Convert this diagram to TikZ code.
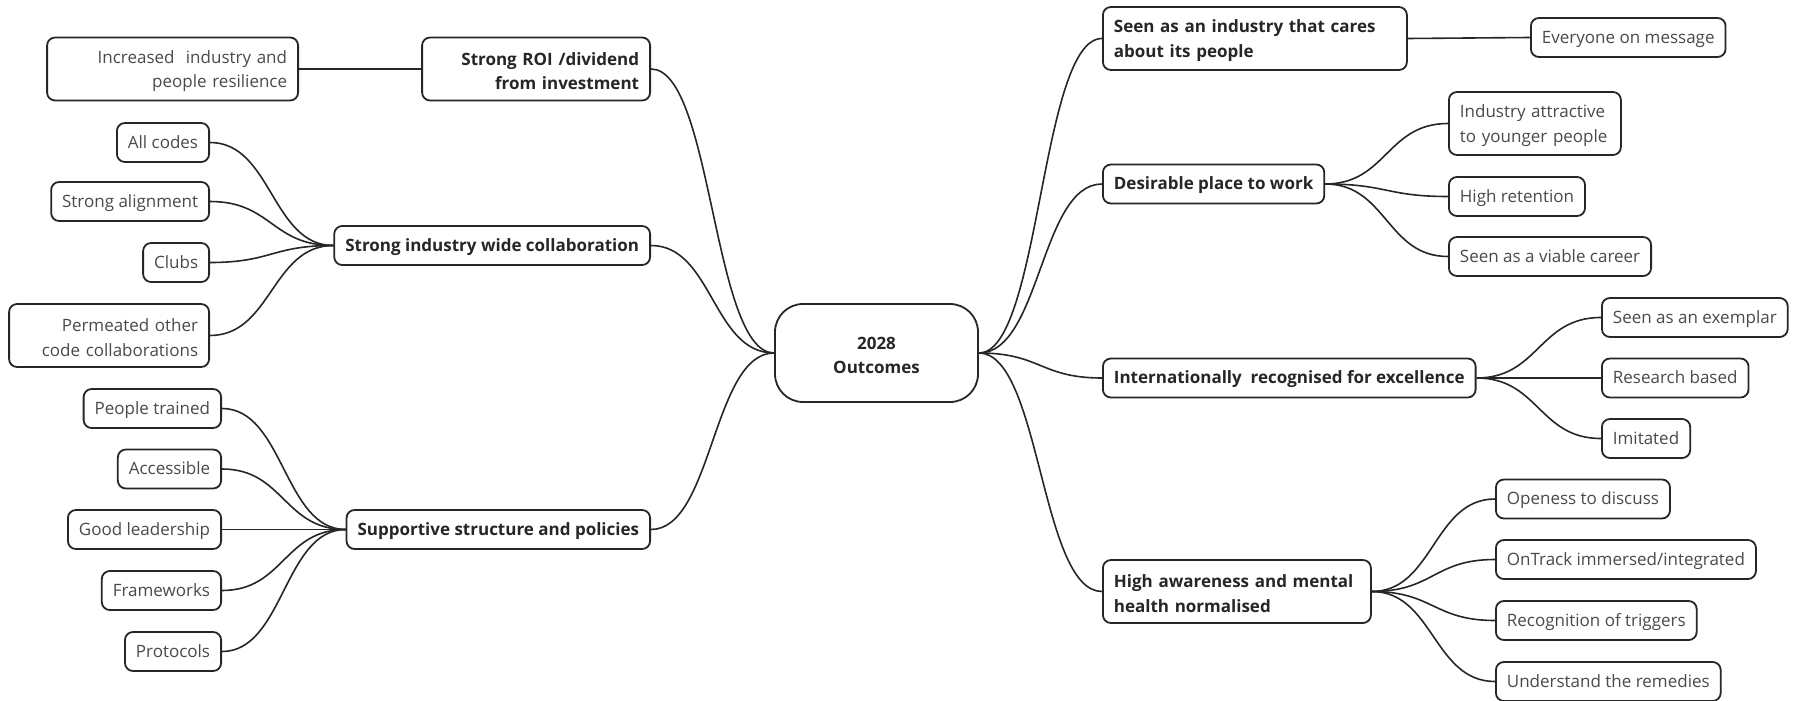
\documentclass[tikz,border=0pt]{standalone}
\usepackage{fontspec}
\setmainfont{Open Sans}
\usetikzlibrary{calc}
\definecolor{ink}{HTML}{262626}
\definecolor{soft}{HTML}{4A4A4A}
% S-shaped connector with horizontal tangents at both ends
\newcommand\mlink[2]{%
  \draw[conn] let \p1=(#1), \p2=(#2), \n1={0.5*(\x2-\x1)} in
    (\p1) .. controls +(\n1,0pt) and +(-\n1,0pt) .. (\p2);}
% extra room above the first line of two-line labels
\newcommand\firstline{\rule{0pt}{8.5pt}}
\begin{document}
\begin{tikzpicture}[x=0.5pt,y=-0.5pt,
  box/.style={draw=ink, line width=0.9pt, rounded corners=4pt, fill=white,
    inner xsep=5.5pt, inner ysep=0pt, minimum height=19.5pt,
    text height=7.4pt, text depth=1.8pt,
    font=\fontsize{8.5}{12.4}\selectfont, text=soft},
  topic/.style={box, font=\fontsize{8.5}{12.4}\selectfont\bfseries, text=ink},
  tall/.style={minimum height=31.5pt, text height=, text depth=},
  conn/.style={draw=ink, line width=0.8pt},
]
\useasboundingbox (0,0) rectangle (1798,701);

% centre
\node[topic, tall, minimum width=101.5pt, minimum height=49pt, rounded corners=14pt, align=center]
  (root) at (876.5,353) {\firstline 2028\\Outcomes};

% left branches
\node[topic, tall, anchor=east, text width=103pt, align=right] (roi) at (651,69)
  {\firstline Strong ROI /dividend\\from investment};
\node[box, tall, anchor=east, text width=114.5pt, align=right] (incr) at (299,69)
  {\firstline Increased\ \ industry and\\people resilience};

\node[topic, anchor=east] (collab) at (651,245.5) {Strong industry wide collaboration};
\node[box, anchor=east] (codes) at (210,142.5) {All codes};
\node[box, anchor=east] (align) at (210,201.5) {Strong alignment};
\node[box, anchor=east] (clubs) at (210,262.5) {Clubs};
\node[box, tall, anchor=east, text width=89pt, align=right] (perm) at (210,335.5)
  {\firstline Permeated other\\code collaborations};

\node[topic, anchor=east] (supp) at (651,529.5) {Supportive structure and policies};
\node[box, anchor=east] (trained) at (222,408.5) {People trained};
\node[box, anchor=east] (access) at (222,469) {Accessible};
\node[box, anchor=east] (leader) at (222,529.5) {Good leadership};
\node[box, anchor=east] (frame) at (222,590.5) {Frameworks};
\node[box, anchor=east] (proto) at (222,651.5) {Protocols};

% right branches
\node[topic, tall, anchor=west, text width=141pt, align=left] (cares) at (1102,38.5)
  {\firstline Seen as an industry that cares\\about its people};
\node[box, anchor=west] (message) at (1530,37.5) {Everyone on message};

\node[topic, anchor=west] (desire) at (1102,184) {Desirable place to work};
\node[box, tall, anchor=west, text width=75pt, align=left] (young) at (1448,123.5)
  {\firstline Industry attractive\\to younger people};
\node[box, anchor=west] (retain) at (1448,196.5) {High retention};
\node[box, anchor=west] (career) at (1448,256.5) {Seen as a viable career};

\node[topic, anchor=west] (intl) at (1102,378) {Internationally\ \ recognised for excellence};
\node[box, anchor=west] (exemplar) at (1601,317.5) {Seen as an exemplar};
\node[box, anchor=west] (research) at (1601,378) {Research based};
\node[box, anchor=west] (imitated) at (1601,438.5) {Imitated};

\node[topic, tall, anchor=west, text width=123pt, align=left] (aware) at (1102,591.5)
  {\firstline High awareness and mental\\health normalised};
\node[box, anchor=west] (open) at (1495,499) {Openess to discuss};
\node[box, anchor=west] (ontrack) at (1495,559.5) {OnTrack immersed/integrated};
\node[box, anchor=west] (triggers) at (1495,620.5) {Recognition of triggers};
\node[box, anchor=west] (remedies) at (1495,681.5) {Understand the remedies};

% connectors
\mlink{root.west}{roi.east}
\mlink{root.west}{collab.east}
\mlink{root.west}{supp.east}
\mlink{roi.west}{incr.east}
\mlink{collab.west}{codes.east}
\mlink{collab.west}{align.east}
\mlink{collab.west}{clubs.east}
\mlink{collab.west}{perm.east}
\mlink{supp.west}{trained.east}
\mlink{supp.west}{access.east}
\mlink{supp.west}{leader.east}
\mlink{supp.west}{frame.east}
\mlink{supp.west}{proto.east}

\mlink{root.east}{cares.west}
\mlink{root.east}{desire.west}
\mlink{root.east}{intl.west}
\mlink{root.east}{aware.west}
\mlink{cares.east}{message.west}
\mlink{desire.east}{young.west}
\mlink{desire.east}{retain.west}
\mlink{desire.east}{career.west}
\mlink{intl.east}{exemplar.west}
\mlink{intl.east}{research.west}
\mlink{intl.east}{imitated.west}
\mlink{aware.east}{open.west}
\mlink{aware.east}{ontrack.west}
\mlink{aware.east}{triggers.west}
\mlink{aware.east}{remedies.west}
\end{tikzpicture}
\end{document}
